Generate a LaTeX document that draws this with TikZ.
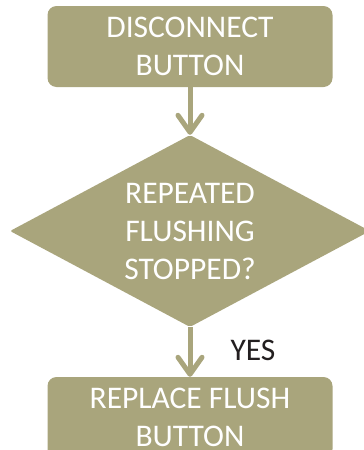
\documentclass[tikz,border=0pt]{standalone}
\usepackage{fontspec}
\setmainfont{Carlito}
\usetikzlibrary{arrows.meta,shapes.geometric,positioning}
\definecolor{khaki}{RGB}{169,165,124}
\definecolor{darktext}{RGB}{35,31,32}

\begin{document}
\begin{tikzpicture}[x=1pt, y=1pt,
      every node/.append style={font=\fontsize{31.5}{38}\selectfont},
      stepbox/.style={fill=khaki, rounded corners=9pt, text=white, align=center,
        minimum width=285pt, minimum height=81pt, inner sep=0pt},
      decision/.style={diamond, fill=khaki, text=white, align=center, aspect=1.875,
        minimum width=360pt, minimum height=192pt, inner sep=0pt, rounded corners=2pt},
      flow/.style={draw=khaki, line width=5pt, -{Straight Barb[length=17pt, width=24pt, round]}}]
    \useasboundingbox (0,0) rectangle (364,-450);
    \node (disconnect) [stepbox] at (190,-46.5) {DISCONNECT\\BUTTON};
    \node (stopped) [decision] at (190,-231) {REPEATED\\FLUSHING\\STOPPED?};
    \node (replace) [stepbox] at (190,-417.5) {REPLACE FLUSH\\BUTTON};
    \draw[flow] (disconnect) -- (stopped);
    \draw[flow] (stopped) -- node[anchor=west, xshift=38pt, yshift=2pt, inner sep=0pt, text=darktext] {YES} (replace);
\end{tikzpicture}
\end{document}
